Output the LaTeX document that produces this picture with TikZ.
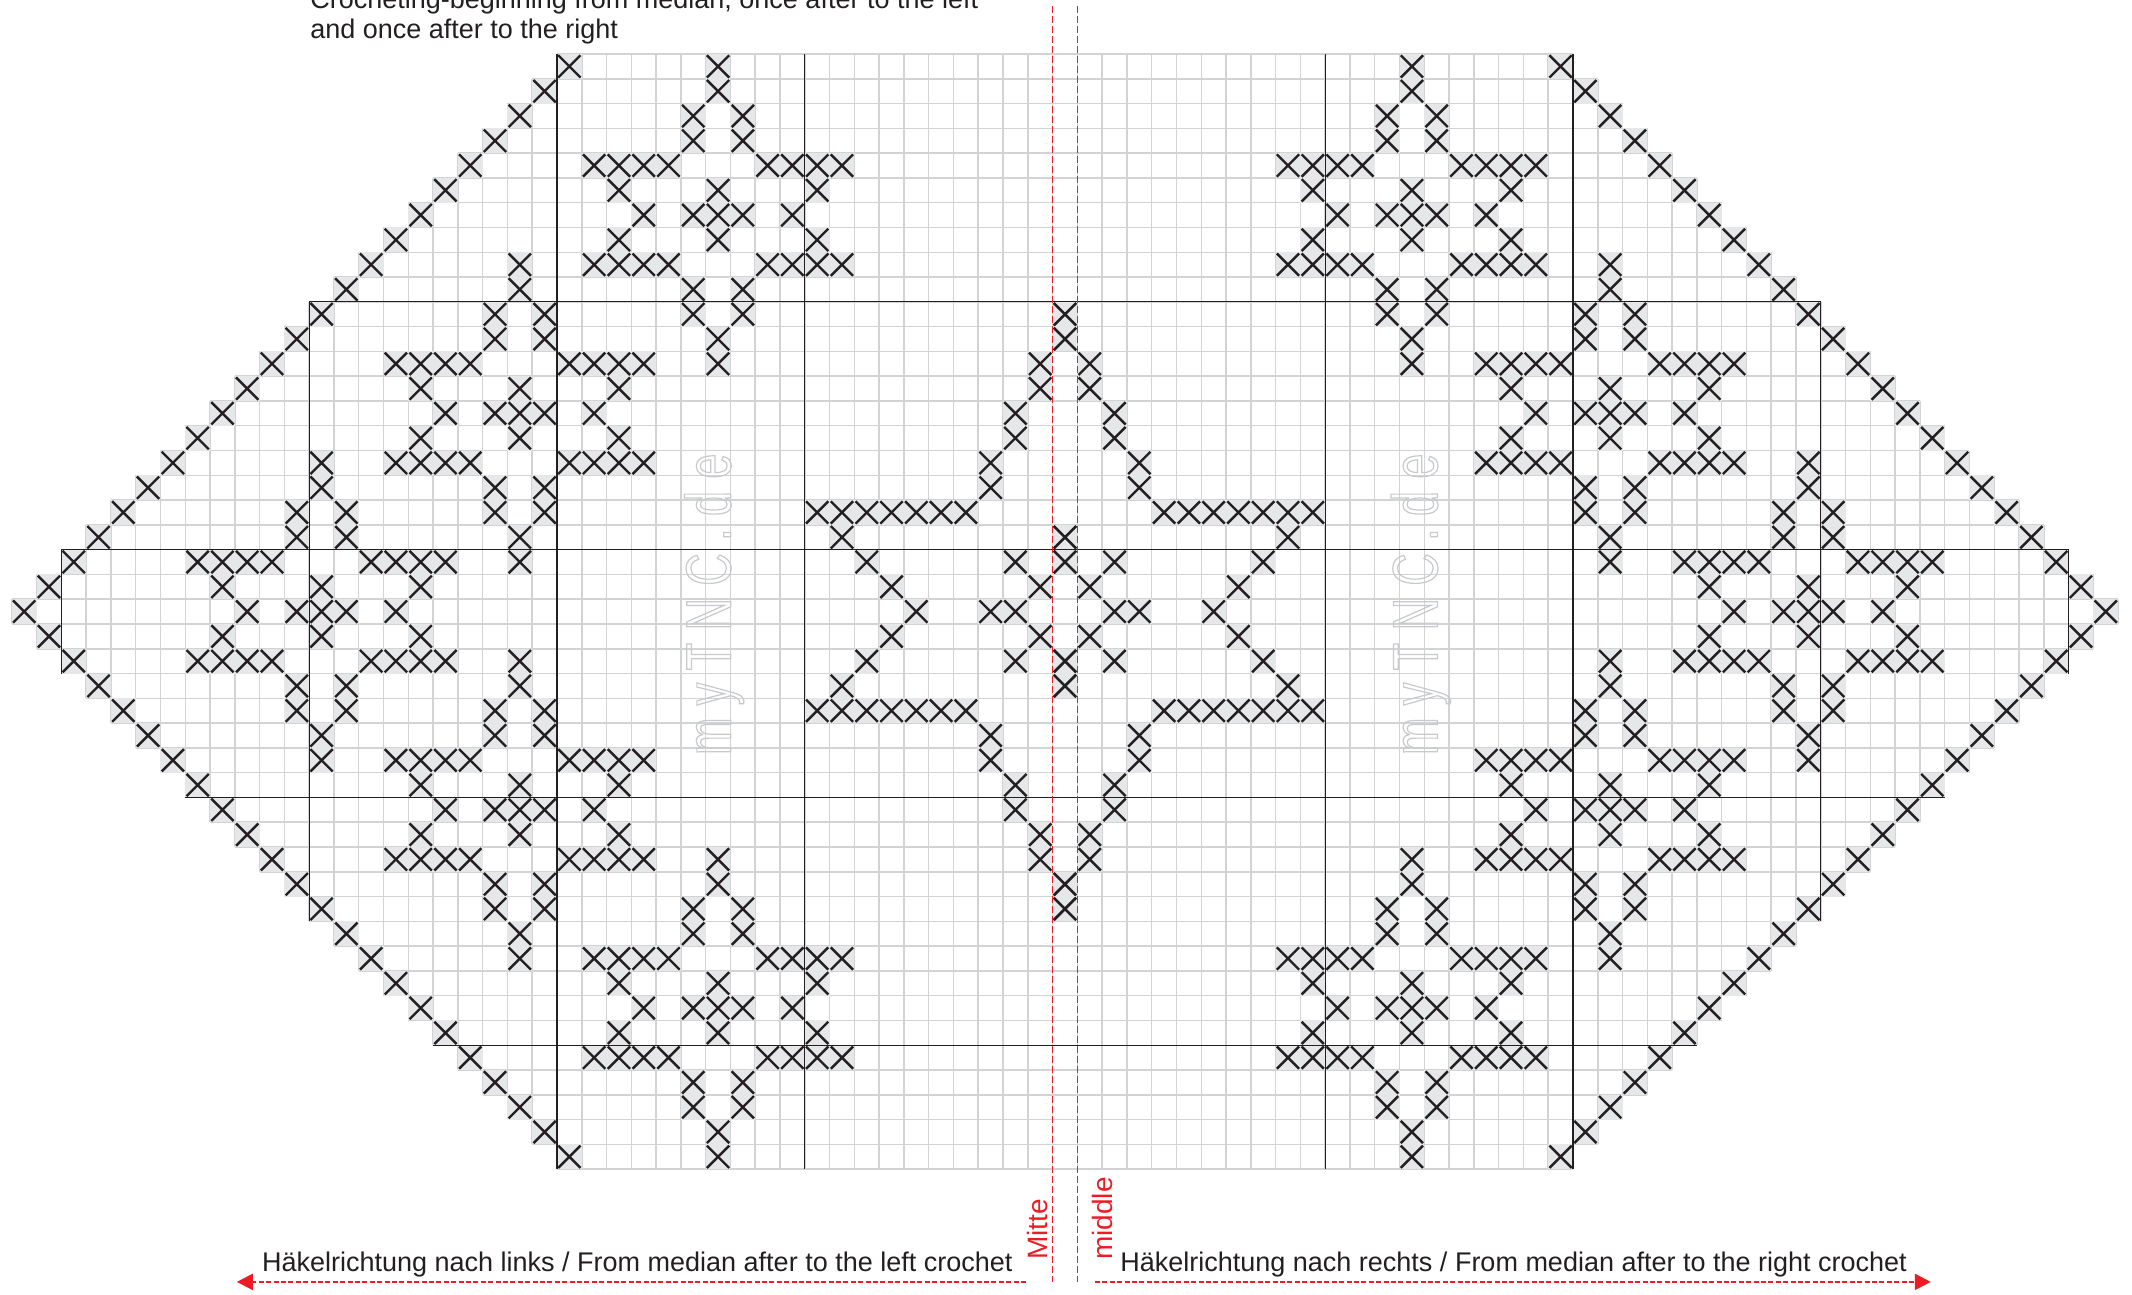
\documentclass[tikz,border=0pt]{standalone}
\usepackage{fontspec}
\setmainfont{Liberation Sans}
\newfontfamily\markfont[FakeStretch=0.7]{Liberation Sans}
\usetikzlibrary{arrows.meta}
\definecolor{inkblack}{RGB}{35,31,32}
\definecolor{cellgray}{RGB}{230,231,232}
\definecolor{gridgray}{RGB}{209,211,212}
\definecolor{medianred}{RGB}{237,28,36}

% one crochet stitch, as shaded cell or as cross
\newcommand{\stitchcell}[2]{\fill[cellgray] (#1,#2) rectangle ++(1,1);}
\newcommand{\stitchcross}[2]{\draw[crossline] (#1+.05,#2+.05) -- (#1+.95,#2+.95) (#1+.05,#2+.95) -- (#1+.95,#2+.05);}
% every stitch of the chart
\newcommand{\allstitches}{%
  % Outer edge
  \foreach \r in {0,...,44} {
    \pgfmathtruncatemacro{\c}{abs(22-\r)}
    \stitch{\c}{\r}
    \stitch{84-\c}{\r}
  }
  % Small stars
  \foreach \sc/\sr in {28/0,20/8,12/16,20/24,28/32,56/0,64/8,72/16,64/24,56/32}
    \foreach \dc/\dr in {0/0,0/1,-1/2,1/2,-1/3,1/3,
        -5/4,-4/4,-3/4,-2/4,2/4,3/4,4/4,5/4,
        -4/5,0/5,4/5,-3/6,-1/6,0/6,1/6,3/6,-4/7,0/7,4/7,
        -5/8,-4/8,-3/8,-2/8,2/8,3/8,4/8,5/8,
        -1/9,1/9,-1/10,1/10,0/11,0/12}
      {\stitch{\sc+\dc}{\sr+\dr}}
  % Big star
  \foreach \c/\r in {42/10,42/11,41/12,41/13,40/14,40/15,39/16,39/17,
      32/18,33/18,34/18,35/18,36/18,37/18,38/18,
      33/19,42/19,34/20,40/20,42/20,35/21,41/21,36/22,39/22,40/22,
      35/23,41/23,34/24,40/24,42/24,33/25,42/25,
      32/26,33/26,34/26,35/26,36/26,37/26,38/26,
      39/27,39/28,40/29,40/30,41/31,41/32,42/33,42/34} {
    \stitch{\c}{\r}
    \stitch{84-\c}{\r}
  }
}
% hollow letters for the site mark
\newcommand{\hollow}[1]{\special{pdf:code q 1 Tr 0.6 w 0.78 0.79 0.8 RG}#1\special{pdf:code Q}}

\begin{document}
\begin{tikzpicture}[
  x=12.39pt, y=-12.39pt,
  crossline/.style={draw=inkblack, line width=1.2pt},
  gridline/.style={draw=gridgray, line width=0.75pt},
  tenline/.style={draw=inkblack, line width=0.6pt},
  midline/.style={draw=medianred, line width=0.65pt, dash pattern=on 3.5pt off 1.5pt},
  dirarrow/.style={draw=medianred, line width=1.1pt, dash pattern=on 2.5pt off 1.2pt, -{Triangle[length=8pt,width=8pt]}},
  lbl/.style={font=\fontsize{13.5}{15}\selectfont, text=inkblack, inner sep=0pt, anchor=base west},
  midlbl/.style={font=\fontsize{14}{16}\selectfont, text=medianred, inner sep=0pt, anchor=base west, rotate=90},
  marklbl/.style={font=\markfont\fontsize{32}{32}\selectfont, inner sep=0pt, anchor=base west, rotate=90},
]
\useasboundingbox (-0.476,-2.18) rectangle (85.56,50.04);

% Grey grid
\foreach \k in {0,...,45} {
  \pgfmathtruncatemacro{\lft}{\k<23 ? abs(22-\k) : \k-23}
  \draw[gridline] (\lft,\k) -- (85-\lft,\k);
}
\foreach \j in {0,...,85} {
  \pgfmathtruncatemacro{\ext}{min(min(\j,85-\j),22)}
  \draw[gridline] (\j,22-\ext) -- (\j,23+\ext);
}

% Shaded cells
\let\stitch\stitchcell
\allstitches

% Site mark
\node[marklbl] (markleft)  at (29.01,28.3) {\hollow{m y T N C . d e}};
\node[marklbl] (markright) at (57.53,28.3) {\hollow{m y T N C . d e}};

% Ten-cell lines
\draw[tenline] (12,10) -- (73,10);
\draw[tenline] (2,20) -- (83,20);
\draw[tenline] (7,30) -- (78,30);
\draw[tenline] (17,40) -- (68,40);
\draw[tenline] (2,20) -- (2,25);
\draw[tenline] (12,10) -- (12,35);
\draw[tenline] (83,20) -- (83,25);
\draw[tenline] (73,10) -- (73,35);
\foreach \j in {22,32,53,63}
  \draw[tenline] (\j,0) -- (\j,45);

% Crosses
\let\stitch\stitchcross
\allstitches

% Median lines
\coordinate (midatop) at (42,-1.94);
\coordinate (midabot) at (42,49.56);
\coordinate (midbtop) at (43,-1.94);
\coordinate (midbbot) at (43,49.56);
\draw[midline] (midatop) -- (midabot);
\draw[midline] (midbtop) -- (midbbot);

% Texts
\node[lbl] (hintone) at (12.03,-1.82) {Crocheting-beginning from median, once after to the left};
\node[lbl] (hinttwo) at (12.03,-0.62) {and once after to the right};
\node[lbl] (leftlbl)  at (10.085,49.12) {Häkelrichtung nach links / From median after to the left crochet};
\node[lbl] (rightlbl) at (44.72,49.12) {Häkelrichtung nach rechts / From median after to the right crochet};
\node[midlbl] (mitte)  at (41.78,48.67) {Mitte};
\node[midlbl] (middle) at (44.42,48.67) {middle};

% Crochet direction
\coordinate (leftfrom) at (40.93,49.55);
\coordinate (leftto) at (9.08,49.55);
\coordinate (rightfrom) at (43.71,49.55);
\coordinate (rightto) at (77.44,49.55);
\draw[dirarrow] (leftfrom) -- (leftto);
\draw[dirarrow] (rightfrom) -- (rightto);

\end{tikzpicture}
\end{document}
